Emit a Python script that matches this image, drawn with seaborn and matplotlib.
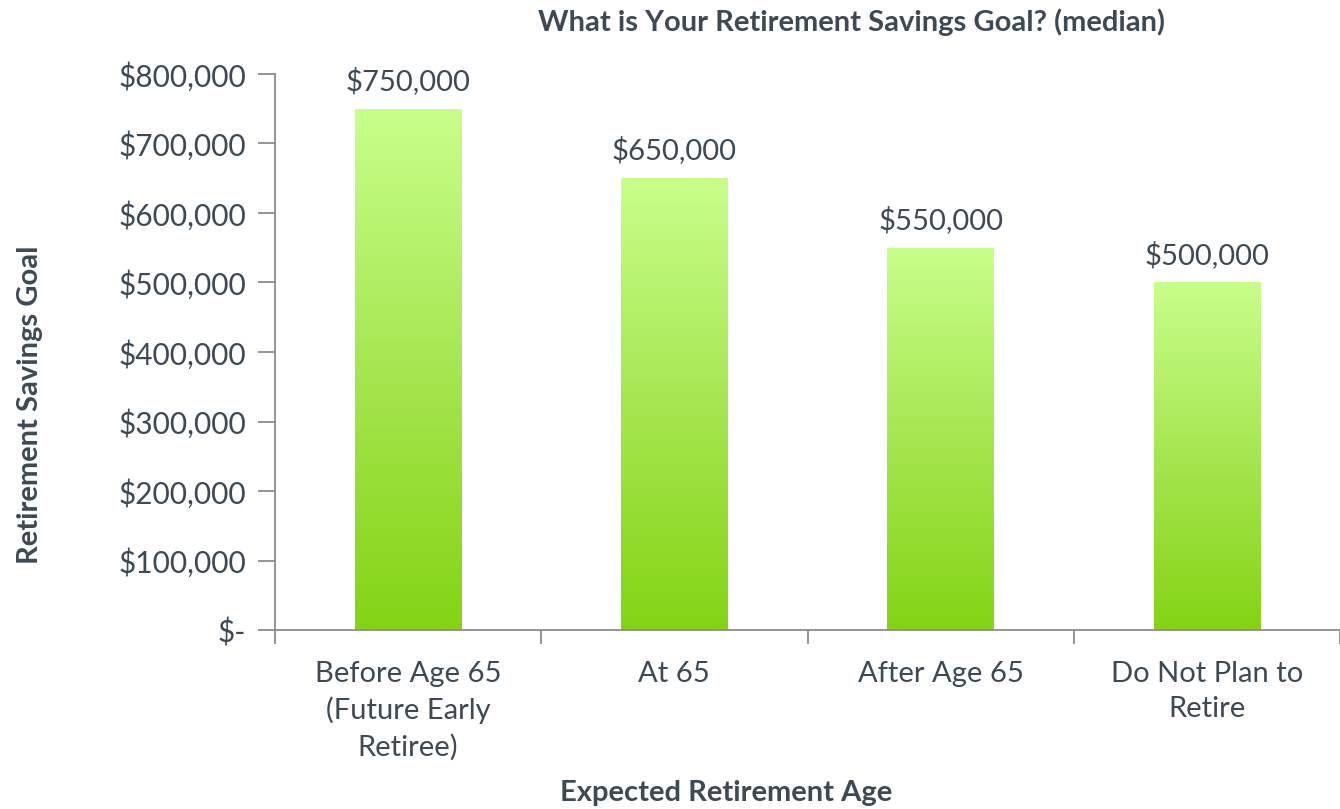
import numpy as np
import pandas as pd
import matplotlib
matplotlib.use("Agg")
import matplotlib.pyplot as plt
from matplotlib.colors import LinearSegmentedColormap
from matplotlib.ticker import FuncFormatter
import seaborn as sns

# Data
categories = ["Before Age 65\n(Future Early\nRetiree)", "At 65", "After Age 65", "Do Not Plan to\nRetire"]
savings_goal = [750000, 650000, 550000, 500000]
y_ticks = [0, 100000, 200000, 300000, 400000, 500000, 600000, 700000, 800000]

TEXT = "#3d4a56"
AXIS = "#8c8c8c"

sns.set_theme(style="white")
plt.rcParams['font.family'] = ['Lato', 'DejaVu Sans']

df = pd.DataFrame({"category": categories, "goal": savings_goal})

fig = plt.figure(figsize=(13.4, 8.09), dpi=100)
ax = fig.add_axes([275 / 1340, 1 - 630 / 809, 1 - 275 / 1340, (630 - 74) / 809])

sns.barplot(data=df, x="category", y="goal", color="#a8e85a", width=0.4, ax=ax,
            saturation=1)

# gradient fill on each bar
grad = LinearSegmentedColormap.from_list("g", ["#84d414", "#a6e650", "#c8ff8a"])
gradient = np.linspace(0, 1, 256).reshape(-1, 1)
for patch in ax.patches:
    x0, y0 = patch.get_x(), patch.get_y()
    w, h = patch.get_width(), patch.get_height()
    patch.set_facecolor("none")
    patch.set_edgecolor("none")
    im = ax.imshow(gradient, cmap=grad, origin="lower", aspect="auto",
                   extent=[x0, x0 + w, y0, y0 + h], zorder=2)
    im.set_clip_path(patch)

ax.set_xlim(-0.5, 3.5)
ax.set_ylim(0, 800000)
ax.set_yticks(y_ticks)
ax.yaxis.set_major_formatter(FuncFormatter(lambda v, p: "$-" if v == 0 else f"${v:,.0f}"))

for i, v in enumerate(savings_goal):
    ax.text(i, v + 20000, f"${v:,.0f}", ha="center", va="bottom", fontsize=21, color=TEXT)

# category boundaries as ticks
ax.set_xticks(range(len(categories)))
ax.set_xticklabels(categories, fontsize=21, color=TEXT, linespacing=1.45)
ax.set_xticks([-0.5, 0.5, 1.5, 2.5, 3.5], minor=True)
ax.tick_params(axis="x", which="major", bottom=False, length=0, pad=22)
ax.tick_params(axis="x", which="minor", bottom=True, length=10, width=1.3, color=AXIS,
               direction="out")
ax.tick_params(axis="y", left=True, length=12, width=1.3, color=AXIS, direction="out",
               labelsize=21.5, labelcolor=TEXT, pad=9)

for s in ["top", "right"]:
    ax.spines[s].set_visible(False)
for s in ["left", "bottom"]:
    ax.spines[s].set_color(AXIS)
    ax.spines[s].set_linewidth(1.3)

ax.set_xlabel("")
ax.set_ylabel("")
fig.text(851 / 1340, 1 - 22 / 809, "What is Your Retirement Savings Goal? (median)",
         ha="center", va="center", fontsize=21, fontweight="bold", color=TEXT)
fig.text(726 / 1340, 1 - 793 / 809, "Expected Retirement Age",
         ha="center", va="center", fontsize=21, fontweight="bold", color=TEXT)
fig.text(30 / 1340, 1 - 405 / 809, "Retirement Savings Goal", rotation=90,
         ha="center", va="center", fontsize=21, fontweight="bold", color=TEXT)

fig.savefig("out.png", dpi=100)
